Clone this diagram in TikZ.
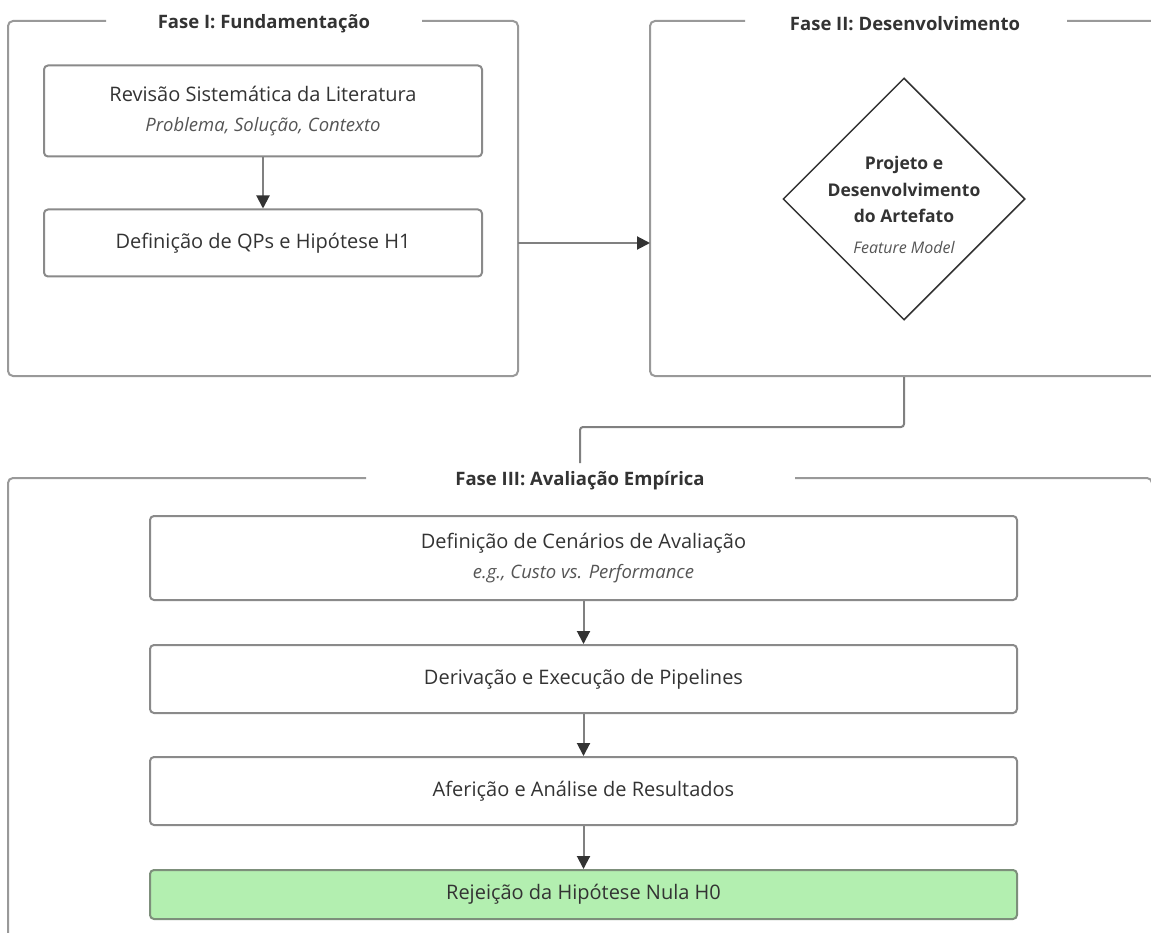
\documentclass[tikz,border=0pt]{standalone}
\usepackage{fontspec}
\setmainfont{Open Sans}
\usetikzlibrary{arrows.meta,shapes.geometric}
\definecolor{txt}{HTML}{333333}
\definecolor{frame}{HTML}{999999}
\definecolor{boxline}{HTML}{8A8A8A}
\definecolor{edge}{HTML}{808080}
\definecolor{tip}{HTML}{333333}
\definecolor{okfill}{HTML}{B3EFB0}
\definecolor{okline}{HTML}{7D8F7B}
\definecolor{sub}{HTML}{555555}
\newcommand{\subline}[1]{{\fontsize{18.5}{30}\selectfont\itshape\color{sub}#1}}

\begin{document}
\begin{tikzpicture}[x=1pt,y=-1pt,
  cluster/.style={draw=frame,line width=2pt,rounded corners=5pt},
  phasetitle/.style={font=\fontsize{18.5}{22}\selectfont\bfseries,text=txt,inner sep=0pt},
  stepbox/.style={draw=boxline,line width=2pt,rounded corners=4pt,fill=white,
    minimum width=438pt,text=txt,font=\fontsize{20}{30}\selectfont,align=center,inner sep=0pt},
  widebox/.style={stepbox,minimum width=867pt},
  flow/.style={draw=edge,line width=2pt,-{Triangle[length=13pt,width=13pt,color=tip]}},
  link/.style={draw=edge,line width=2pt,rounded corners=3pt}]

\useasboundingbox (0,0) rectangle (1151,933);
\fill[white] (0,0) rectangle (1151,933);

% Phase I frame and steps
\draw[cluster] (422,21) -- (518,21) -- (518,376) -- (8,376) -- (8,21) -- (106,21);
\node[phasetitle] (t1) at (264,23.5) {Fase I: Fundamentação};
\node[stepbox,minimum height=91pt] (rsl) at (263,111)
  {Revisão Sistemática da Literatura\\\subline{Problema, Solução, Contexto}};
\node[stepbox,minimum height=67pt] (qp) at (263,243) {Definição de QPs e Hipótese H1};
\draw[flow] (rsl) -- (qp);

% Phase II frame and artefact
\draw[cluster] (745,21) -- (650,21) -- (650,376) -- (1166,376) -- (1166,21) -- (1067,21);
\node[phasetitle] (t2) at (905,23.5) {Fase II: Desenvolvimento};
\node[diamond,draw=tip,line width=1.5pt,minimum width=242pt,minimum height=242pt,
  inner sep=0pt,fill=white] (dev) at (904,199) {};
\node[align=center,text=txt,font=\fontsize{17.5}{26.5}\selectfont\bfseries] (devtext) at (904,205)
  {Projeto e\\Desenvolvimento\\do Artefato\\[4pt]{\fontsize{16}{18}\selectfont\mdseries\itshape\color{sub}Feature Model}};

% Link from phase I to phase II
\coordinate (p1e) at (518,243);
\coordinate (p2w) at (650,243);
\draw[flow] (p1e) -- (p2w);

% Link from phase II to phase III
\coordinate (p2s) at (904,377);
\coordinate (bend) at (742,427);
\coordinate (p3n) at (580,463);
\draw[link] (p2s) |- (bend) -| (p3n);

% Phase III frame and steps
\draw[cluster] (366,478) -- (8,478) -- (8,960);
\draw[cluster] (795,478) -- (1152,478) -- (1152,960);
\node[phasetitle] (t3) at (580,480.5) {Fase III: Avaliação Empírica};

\node[widebox,minimum height=84pt] (scn) at (583.5,558)
  {Definição de Cenários de Avaliação\\\subline{e.g., Custo vs. Performance}};
\node[widebox,minimum height=68pt] (drv) at (583.5,679) {Derivação e Execução de Pipelines};
\node[widebox,minimum height=68pt] (afr) at (583.5,791) {Aferição e Análise de Resultados};
\node[widebox,minimum height=49pt,fill=okfill,draw=okline] (rej) at (583.5,894.5) {Rejeição da Hipótese Nula H0};

\draw[flow] (scn) -- (drv);
\draw[flow] (drv) -- (afr);
\draw[flow] (afr) -- (rej);
\end{tikzpicture}
\end{document}
